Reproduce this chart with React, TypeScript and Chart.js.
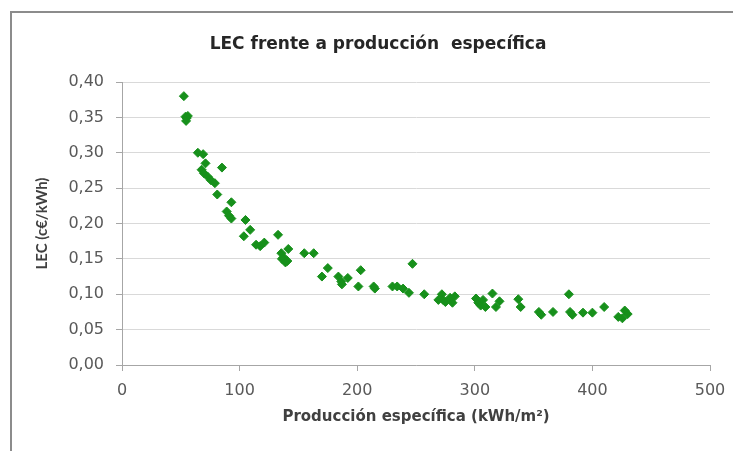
import React, { useEffect, useRef } from "react";
import { Chart, registerables } from "chart.js";
Chart.register(...registerables);

const titleText = "LEC frente a producción  específica";
const xTitle = "Producción específica (kWh/m²)";
const yTitle = "LEC (c€/kWh)";

const produccion = [
  52.6, 54, 55, 56, 54.5, 64.5, 69, 71, 67.7, 69.7,
  73, 75.7, 79, 85, 81, 93, 89, 91, 93, 105,
  109, 103.6, 114, 117.5, 121, 132.7, 135.5, 137.5, 140.6, 141.4,
  136, 139, 155, 163, 170, 175, 184, 186.5, 192, 187,
  203, 201, 214, 215, 230, 234, 239, 244, 247, 257,
  269, 272, 273, 275, 279, 281, 283, 301, 303, 305,
  307, 309, 315, 318, 321, 337, 339, 354.5, 356.5, 366.5,
  380, 381, 383, 392, 400, 410, 422, 425.5, 427.5, 430,
];
const lec = [
  0.380, 0.351, 0.349, 0.352, 0.345, 0.300, 0.298, 0.285, 0.276, 0.271,
  0.266, 0.261, 0.257, 0.279, 0.241, 0.230, 0.217, 0.211, 0.207, 0.205,
  0.191, 0.182, 0.170, 0.168, 0.173, 0.184, 0.158, 0.152, 0.147, 0.164,
  0.150, 0.145, 0.158, 0.158, 0.125, 0.137, 0.125, 0.118, 0.123, 0.114,
  0.134, 0.111, 0.111, 0.108, 0.111, 0.111, 0.108, 0.102, 0.143, 0.100,
  0.092, 0.100, 0.092, 0.089, 0.095, 0.088, 0.097, 0.094, 0.088, 0.084,
  0.092, 0.082, 0.101, 0.082, 0.090, 0.093, 0.082, 0.075, 0.071, 0.075,
  0.100, 0.075, 0.071, 0.074, 0.074, 0.082, 0.068, 0.066, 0.077, 0.072,
];

const xTickValues = [0, 100, 200, 300, 400, 500];
const xTickLabels = ["0", "100", "200", "300", "400", "500"];
const yTickValues = [0, 0.05, 0.1, 0.15, 0.2, 0.25, 0.3, 0.35, 0.4];
const yTickLabels = ["0,00", "0,05", "0,10", "0,15", "0,20", "0,25", "0,30", "0,35", "0,40"];

const WIDE = "'DejaVu Sans', sans-serif";
const NARROW = "Lato, 'Open Sans', sans-serif";

function labelFor(values: number[], labels: string[], v: number) {
  const i = values.findIndex((t) => Math.abs(t - v) < 1e-6);
  return i >= 0 ? labels[i] : "";
}

export default function App() {
  const ref = useRef<HTMLCanvasElement>(null);
  useEffect(() => {
    document.body.style.margin = "0";
    const chart = new Chart(ref.current!, {
      type: "scatter",
      data: {
        datasets: [
          {
            data: produccion.map((x, i) => ({ x, y: lec[i] })),
            pointStyle: "rectRot",
            pointRadius: 4.5,
            backgroundColor: "#17901b",
            borderColor: "#17901b",
            borderWidth: 1,
          },
        ],
      },
      options: {
        animation: false,
        responsive: false,
        layout: { padding: { left: 23, right: 0, top: 0, bottom: 0 } },
        plugins: {
          legend: { display: false },
          tooltip: { enabled: false },
          title: {
            display: true,
            text: titleText,
            color: "#262626",
            font: { family: WIDE, size: 17, weight: "bold" },
            padding: { top: 34.8, bottom: 26.8 },
          },
        },
        scales: {
          x: {
            type: "linear",
            min: 0,
            max: 500,
            afterBuildTicks: (s: any) => {
              s.ticks = xTickValues.map((value) => ({ value }));
            },
            afterFit: (s: any) => {
              s.height = 86;
              s.paddingRight = 23;
              s.paddingLeft = 0;
            },
            ticks: {
              color: "#595959",
              font: { family: WIDE, size: 16 },
              padding: 10,
              maxRotation: 0,
              callback: (v: any) => labelFor(xTickValues, xTickLabels, Number(v)),
            },
            grid: {
              drawOnChartArea: false,
              tickLength: 6,
              color: "#a6a6a6",
            },
            border: { color: "#a6a6a6", width: 1 },
            title: {
              display: true,
              text: xTitle,
              color: "#404040",
              font: { family: WIDE, size: 15, weight: "bold" },
              padding: { top: 0, bottom: 25 },
            },
          },
          y: {
            type: "linear",
            min: 0,
            max: 0.4,
            afterBuildTicks: (s: any) => {
              s.ticks = yTickValues.map((value) => ({ value }));
            },
            afterFit: (s: any) => {
              s.width = 99;
            },
            ticks: {
              color: "#595959",
              font: { family: WIDE, size: 16 },
              padding: 12,
              callback: (v: any) => labelFor(yTickValues, yTickLabels, Number(v)),
            },
            grid: {
              color: "#d9d9d9",
              tickLength: 6,
              tickColor: "#a6a6a6",
            },
            border: { color: "#a6a6a6", width: 1 },
            title: {
              display: true,
              text: yTitle,
              color: "#404040",
              font: { family: NARROW, size: 15, weight: "bold" },
              padding: { top: 10, bottom: 0 },
            },
          },
        },
      },
    });
    return () => chart.destroy();
  }, []);

  return (
    <div style={{ position: "fixed", left: 0, top: 0, width: 733, height: 451, background: "#fff", overflow: "hidden" }}>
      <div
        style={{
          position: "absolute",
          left: 10,
          top: 11,
          width: 740,
          height: 460,
          borderTop: "2px solid #8c8c8c",
          borderLeft: "2px solid #8c8c8c",
        }}
      />
      <canvas ref={ref} width={733} height={451} style={{ position: "absolute", left: 0, top: 0 }} />
    </div>
  );
}
